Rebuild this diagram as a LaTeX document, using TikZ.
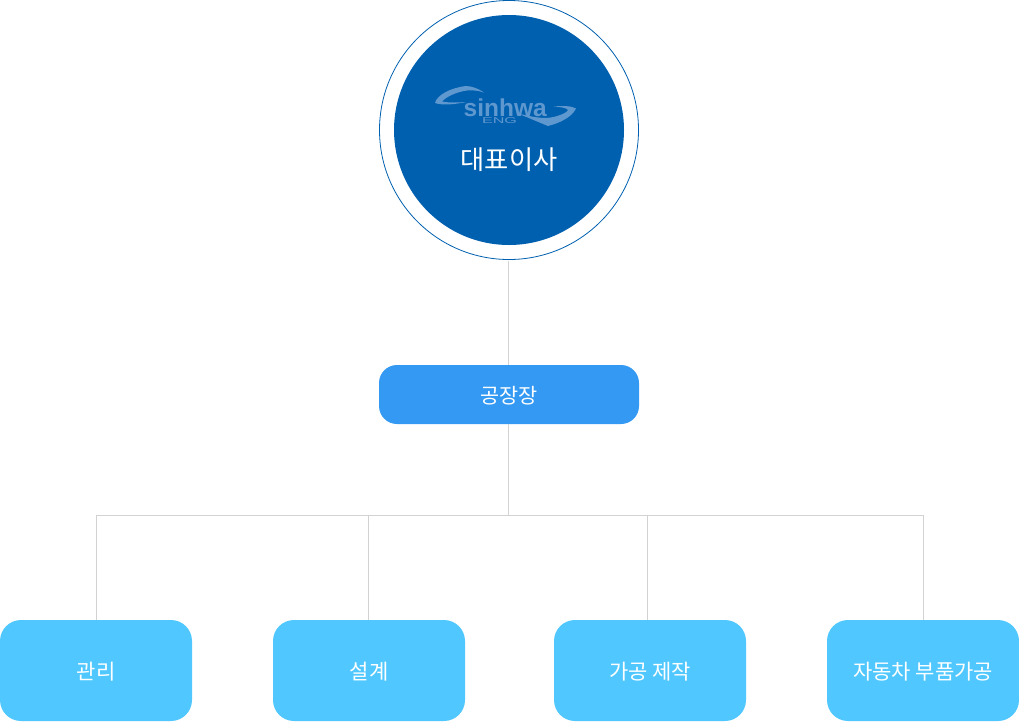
\documentclass[tikz,border=0pt]{standalone}
\usepackage{fontspec}
\setmainfont{Noto Sans CJK KR}
\newfontfamily\logofont{Liberation Sans}
\definecolor{ceo}{HTML}{0060B0}
\definecolor{mgr}{HTML}{3399F3}
\definecolor{dept}{HTML}{50C8FF}
\definecolor{wire}{HTML}{D2D2D2}
\definecolor{logoc}{HTML}{5F97CF}
\newcommand{\lowered}[1]{\raisebox{0pt}[\dimexpr\height+1pt\relax][\dimexpr\depth-1pt\relax]{#1}}
\tikzset{
  x=1pt,y=-1pt,
  mgrbox/.style={rectangle,rounded corners=18pt,fill=mgr,text=white,minimum width=260pt,minimum height=59pt,inner sep=0pt,font=\fontsize{20.8}{24}\selectfont},
  deptbox/.style={rectangle,rounded corners=21pt,fill=dept,text=white,minimum width=192pt,minimum height=101pt,inner sep=0pt,font=\fontsize{21}{24}\selectfont},
  wireline/.style={draw=wire,line width=1pt},
}
\begin{document}
\begin{tikzpicture}
\useasboundingbox (0,0) rectangle (1019,721);
\coordinate (bus) at (508.5,515.5);
\coordinate (busL) at (96.5,515.5);
\coordinate (busR) at (923.5,515.5);
\coordinate (busB) at (368.5,515.5);
\coordinate (busC) at (647.5,515.5);
\node[circle,draw=ceo,line width=0.8pt,fill=white,minimum size=259pt,inner sep=0pt] (outer) at (509,130) {};
\node[circle,fill=ceo,minimum size=230pt,inner sep=0pt] (inner) at (509,130) {};
\node[mgrbox] (mgr) at (509,394.5) {\lowered{공장장}};
\node[deptbox] (d1) at (96,670.5) {\lowered{관리}};
\node[deptbox] (d2) at (369,670.5) {\lowered{설계}};
\node[deptbox] (d3) at (650,670.5) {\lowered{가공 제작}};
\node[deptbox] (d4) at (923,670.5) {\lowered{자동차 부품가공}};
\draw[wireline] (508.5,260.5) -- (508.5,365);
\draw[wireline] (508.5,424) -- (bus);
\draw[wireline] (busL |- d1.north) -- (busL) -- (busR) -- (busR |- d4.north);
\draw[wireline] (busB) -- (busB |- d2.north);
\draw[wireline] (busC) -- (busC |- d3.north);
% logo
\fill[logoc] (435,103) .. controls (437,95) and (450,88) .. (466,86) .. controls (472,86) and (479,89) .. (484,92.5) .. controls (478,90.5) and (472,90) .. (467,90.5) .. controls (456,92) and (446,97) .. (442,101.5) .. controls (450,103) and (458,102.5) .. (466,102) .. controls (455,104.5) and (442,105.5) .. (435,103) -- cycle;
\fill[logoc] (554,106.5) .. controls (563,105.5) and (572,106) .. (576,108.5) .. controls (572,117) and (560,123) .. (548,126) .. controls (538,122) and (527,117) .. (516,113) .. controls (528,116) and (538,118) .. (546,118) .. controls (556,117.5) and (567,113) .. (568,110) .. controls (567,108) and (561,107) .. (554,106.5) -- cycle;
\node[text=logoc,inner sep=0pt,font=\logofont\bfseries\fontsize{24.5}{26}\selectfont] (logoname) at (505.2,107.5) {sinhwa};
\node[text=logoc,inner sep=0pt,xscale=1.9,font=\logofont\fontsize{8.5}{10}\selectfont] (logoeng) at (499.5,120.6) {ENG};
\node[text=white,inner sep=0pt,font=\fontsize{26.3}{30}\selectfont] (ceolabel) at (509,159.5) {대표이사};
\end{tikzpicture}
\end{document}
